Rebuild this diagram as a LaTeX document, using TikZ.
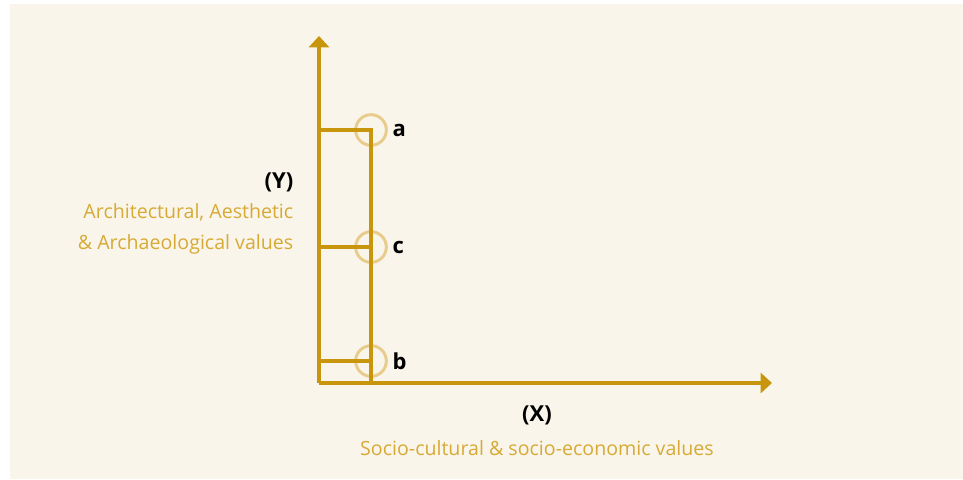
\documentclass[tikz,border=0pt]{standalone}
\usepackage{fontspec}
\setmainfont{Open Sans}
\usetikzlibrary{arrows.meta,positioning}
\definecolor{paper}{RGB}{250,245,234}
\definecolor{axisgold}{RGB}{200,150,12}
\definecolor{ringgold}{RGB}{232,204,140}
\definecolor{textgold}{RGB}{214,170,52}

\begin{document}
\begin{tikzpicture}[x=0.75pt,y=-0.75pt,
  axis/.style={draw=axisgold,line width=2.3pt,-{Triangle[length=8.5pt,width=15pt]}},
  link/.style={draw=axisgold,line width=2.3pt},
  ring/.style={circle,draw=ringgold,line width=2.2pt,minimum size=23pt,inner sep=0pt},
  pointlabel/.style={font=\bfseries\fontsize{16.5}{18}\selectfont,text=black},
  caption/.style={font=\fontsize{14.7}{23.2}\selectfont,text=textgold}]
\useasboundingbox (0,0) rectangle (963,479);
\fill[white] (0,0) rectangle (963,479);
\fill[paper] (10,4) rectangle (963,479);
% axes
\coordinate (O) at (319,383);
\coordinate (Ytip) at (319,36);
\coordinate (Xtip) at (772,383);
\draw[axis] (O) -- (Ytip);
\draw[axis] (O) -- (Xtip);
% points
\node[ring] (a) at (371,130) {};
\node[ring] (c) at (371,247) {};
\node[ring] (b) at (371,361) {};
\coordinate (Oa) at (319,130);
\coordinate (Oc) at (319,247);
\coordinate (Ob) at (319,361);
\coordinate (Ox) at (371,383);
\draw[link] (Oa) -- (a.center) -- (Ox);
\draw[link] (Oc) -- (c.center);
\draw[link] (Ob) -- (b.center);
\node[pointlabel,right=0pt of a] {a};
\node[pointlabel,right=0pt of c] {c};
\node[pointlabel,right=0pt of b] {b};
% axis captions
\node[pointlabel] (Ylabel) at (279,182) {(Y)};
\node[caption,align=right,anchor=east] (Ytext) at (298,229) {Architectural, Aesthetic\\\& Archaeological values};
\node[pointlabel] (Xlabel) at (537,415) {(X)};
\node[caption] (Xtext) at (537,448) {Socio-cultural \& socio-economic values};
\end{tikzpicture}
\end{document}
